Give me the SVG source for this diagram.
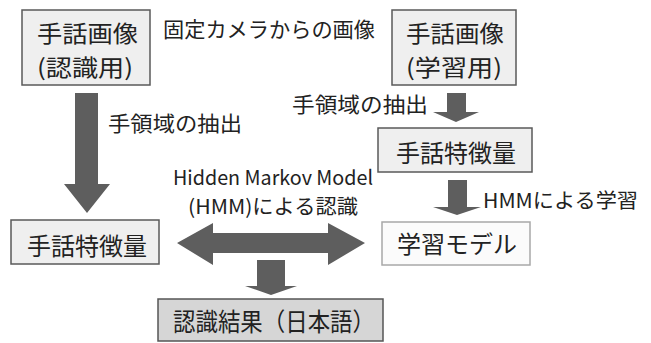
<svg xmlns="http://www.w3.org/2000/svg" width="651" height="343" viewBox="0 0 651 343">
<style>
.box{fill:#efefef;stroke:#5a5a5a;stroke-width:1.5}
.boxl{fill:#fbfbfb;stroke:#a8a8a8;stroke-width:1.5}
.boxd{fill:#d6d6d6;stroke:#555;stroke-width:1.5}
.t{font-family:"Noto Sans CJK JP","Liberation Sans",sans-serif;fill:#222}
.n{font-size:23px}
.m{font-size:24px;text-anchor:middle}
.l{font-size:21px}
.arr{fill:#5e5e5e}
</style>
<rect width="651" height="343" fill="#fff"/>
<g id="connectors">
<polygon class="arr" points="75,93 98,93 98,184 110,184 87,213 64,184 75,184"/>
<polygon class="arr" points="447,93 466,93 466,112 479,112 456,122 433,112 447,112"/>
<polygon class="arr" points="448,180 467,180 467,207 481,207 457,215 433,207 448,207"/>
<polygon class="arr" points="177,243 213,223 213,233 328,233 328,223 365,243 328,265 328,253 213,253 213,265"/>
<polygon class="arr" points="257,260 285,260 285,286 297,286 271,295 245,286 257,286"/>
</g>
<g id="labels">
<text class="t l" x="163" y="37" textLength="212" lengthAdjust="spacingAndGlyphs">固定カメラからの画像</text>
<text class="t l" x="108" y="131" textLength="134" lengthAdjust="spacingAndGlyphs">手領域の抽出</text>
<text class="t l" x="292" y="112" textLength="136" lengthAdjust="spacingAndGlyphs">手領域の抽出</text>
<text class="t" style="font-size:20px" x="173" y="185" textLength="200" lengthAdjust="spacingAndGlyphs">Hidden Markov Model</text>
<text class="t" style="font-size:20px" x="188" y="214" textLength="170" lengthAdjust="spacingAndGlyphs">(HMM)による認識</text>
<text class="t" style="font-size:20px" x="483" y="208" textLength="155" lengthAdjust="spacingAndGlyphs">HMMによる学習</text>
</g>
<g id="img-recog">
<rect class="box" x="22" y="10" width="128" height="75"/>
<text class="t n" x="37" y="42" textLength="101" lengthAdjust="spacingAndGlyphs">手話画像</text>
<text class="t n" x="37" y="76" textLength="96" lengthAdjust="spacingAndGlyphs">(認識用)</text>
</g>
<g id="img-learn">
<rect class="box" x="392" y="10" width="124" height="75"/>
<text class="t n" x="406" y="42" textLength="98" lengthAdjust="spacingAndGlyphs">手話画像</text>
<text class="t n" x="406" y="76" textLength="96" lengthAdjust="spacingAndGlyphs">(学習用)</text>
</g>
<g id="feat-learn">
<rect class="box" x="378" y="128" width="154" height="44"/>
<text class="t m" x="456" y="162">手話特徴量</text>
</g>
<g id="feat-recog">
<rect class="box" x="11" y="220" width="148" height="44"/>
<text class="t m" x="87" y="255">手話特徴量</text>
</g>
<g id="model">
<rect class="boxl" x="382" y="222" width="148" height="43"/>
<text class="t m" x="457" y="253">学習モデル</text>
</g>
<g id="result">
<rect class="boxd" x="158" y="299" width="225" height="42"/>
<text class="t" style="font-size:25px" x="173" y="331" textLength="202" lengthAdjust="spacingAndGlyphs">認識結果（日本語）</text>
</g>
</svg>
